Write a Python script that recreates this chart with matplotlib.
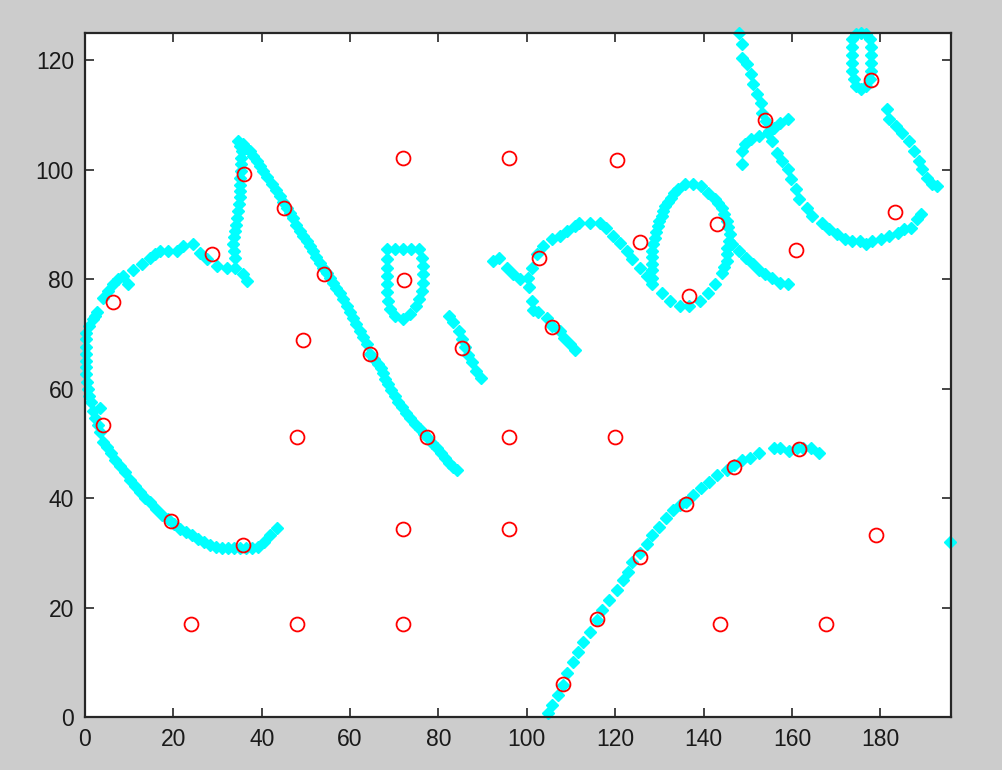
import matplotlib
matplotlib.use("Agg")
import matplotlib.pyplot as plt

# ---- red circles (grid nodes) ----
node_x = [6.3, 28.7, 36.0, 45.0, 54.0, 49.3, 64.4, 72.1, 71.9, 95.9, 120.3, 125.7,
          102.7, 105.8, 85.3, 77.3, 47.9, 4.1, 19.4, 35.7, 24.0, 47.9, 71.9, 71.9,
          95.9, 95.9, 119.9, 108.1, 115.8, 125.7, 136.1, 147.0, 161.5, 179.1, 167.8,
          143.8, 136.8, 143.1, 161.0, 153.8, 178.0, 183.4]
node_y = [75.9, 84.7, 99.3, 93.0, 80.9, 68.9, 66.4, 79.9, 102.2, 102.2, 101.8, 86.8,
          83.9, 71.2, 67.5, 51.1, 51.1, 53.3, 35.8, 31.4, 17.0, 17.0, 17.0, 34.3,
          34.3, 51.1, 51.1, 6.0, 17.9, 29.2, 39.0, 45.6, 48.9, 33.2, 17.0,
          17.0, 77.0, 90.1, 85.4, 109.1, 116.4, 92.3]

# ---- cyan handwriting strokes ----
# stroke 1: big left curve + vertical + long diagonal
s1_x = [43.4, 41.8, 40.5, 39.1, 37.8, 36.4, 35.1, 33.7, 32.3, 31.0, 29.6, 28.3, 26.9,
        25.6, 24.2, 22.8, 21.5, 20.1, 18.8, 17.4, 16.1, 14.7, 13.6, 12.4, 11.3, 10.2,
        9.0, 7.9, 6.8, 5.9, 5.0, 4.1, 3.4, 2.9, 2.3, 1.8, 3.4, 1.4, 0.9, 0.7, 0.5,
        0.2, 0.2, 0.2, 0.2, 0.2, 0.2, 0.2, 0.9, 1.8, 2.3, 2.7, 4.1, 5.2, 6.3, 7.5,
        8.6, 9.7, 10.9, 12.9, 14.7, 15.9, 17.0, 18.8, 20.8, 22.2, 24.4, 26.0, 27.6,
        29.9, 32.1, 33.9, 35.7, 36.6,
        33.9, 33.5, 33.9, 34.4, 34.8, 35.1, 35.1, 35.3, 35.5, 34.6,
        35.7, 37.3, 38.9, 40.3, 42.3, 44.1, 45.7, 47.0, 48.6, 50.2, 51.6, 53.1, 54.7,
        56.1, 57.7, 59.2, 60.6, 62.2, 63.8, 64.4, 66.3, 67.4, 68.5, 70.1, 71.7, 73.5,
        75.8, 77.6, 79.6, 81.4, 83.2, 84.1]
s1_y = [34.5, 33.2, 31.9, 31.0, 30.8, 30.8, 30.8, 30.8, 30.8, 30.8, 31.0, 31.4, 31.9,
        32.5, 33.2, 33.8, 34.3, 35.2, 36.1, 37.0, 38.1, 39.2, 40.1, 41.2, 42.3, 43.4,
        44.7, 45.8, 46.9, 48.2, 49.3, 50.2, 52.0, 53.3, 54.6, 56.0, 56.4, 57.5, 58.7,
        60.0, 61.3, 62.6, 63.9, 65.1, 66.4, 67.7, 69.0, 70.2, 71.5, 72.8, 73.3, 74.1,
        76.6, 77.9, 79.2, 80.0, 80.6, 79.2, 81.6, 82.8, 83.9, 84.6, 85.2, 85.2, 85.2,
        86.1, 86.5, 84.8, 83.7, 82.5, 82.1, 82.1, 81.0, 79.7,
        83.9, 86.5, 88.9, 91.2, 93.8, 96.2, 98.5, 101.1, 103.4, 105.3,
        104.7, 103.4, 101.6, 99.8, 97.4, 95.2, 93.0, 91.2, 88.9, 87.0, 85.2, 83.0, 81.2,
        79.4, 77.4, 75.2, 73.0, 70.6, 68.2, 66.4, 64.6, 62.8, 60.9, 58.7, 56.6, 54.6,
        52.7, 50.9, 49.1, 47.3, 45.6, 45.1]

# stroke 1b: further samples read along the vertical and long diagonal
s1b_x = [33.7, 33.7, 34.1, 34.6, 35.0, 35.1, 35.2, 35.4, 35.1,
         36.5, 38.1, 39.6, 41.3, 43.2, 44.9, 46.3, 47.8, 49.4, 50.9, 52.3, 53.9, 55.4,
         56.9, 58.4, 59.9, 61.4, 63.0, 65.4, 66.9, 68.0, 69.3, 70.9, 72.6, 74.6, 76.7,
         78.6, 80.5, 82.3]
s1b_y = [85.2, 87.7, 90.0, 92.5, 95.0, 97.3, 99.8, 102.2, 104.4,
         104.0, 102.5, 100.7, 98.6, 96.3, 94.1, 92.1, 90.0, 87.9, 86.1, 84.1, 82.1, 80.3,
         78.4, 76.3, 74.1, 71.8, 69.4, 65.5, 63.7, 61.8, 59.8, 57.6, 55.6, 53.6, 51.8,
         50.0, 48.2, 46.4]

# stroke 2: small closed loop
s2_x = [68.3, 70.1, 71.9, 73.7, 75.5, 76.2, 76.4, 76.4, 76.4, 76.2, 75.5, 74.9, 73.5,
        71.9, 70.1, 69.0, 68.5, 68.3, 68.3, 68.3, 68.3, 68.3]
s2_y = [85.6, 85.6, 85.6, 85.6, 85.6, 83.9, 82.5, 81.0, 79.4, 77.9, 76.4, 75.2, 73.7,
        72.8, 73.3, 74.6, 76.1, 77.7, 79.2, 80.6, 82.1, 83.7]

# stroke 3: short diagonal
s3_x = [82.3, 83.4, 84.6, 85.3, 85.9, 86.6, 87.5, 88.6, 89.6]
s3_y = [73.3, 72.1, 70.6, 69.1, 67.7, 66.2, 64.8, 63.3, 62.0]

# stroke 4: middle wave with loop
s4_x = [92.3, 93.8, 95.4, 96.8, 98.4, 100.2, 101.1, 102.2, 103.6, 105.6, 107.4, 109.2,
        110.8, 111.9, 114.2, 116.5, 118.0, 119.4, 121.0, 122.6, 123.9, 125.5, 127.1,
        128.4, 130.5, 132.3, 134.6, 136.8, 139.1, 140.9, 142.5, 144.1, 145.2, 145.4,
        145.9, 145.2, 144.1, 142.5, 140.9, 139.5, 137.5, 135.7, 134.1, 132.7, 131.2,
        130.5, 129.6, 128.9, 128.4, 128.4, 128.4,
        146.5, 148.1, 149.7, 151.1, 152.6, 153.8, 155.6, 157.2, 159.0,
        100.6, 101.1, 101.3, 102.5, 104.5, 105.8, 107.4, 108.5, 109.7, 110.8,
        144.7, 145.3, 145.7, 145.6, 144.7, 143.3,
        128.4, 128.4, 128.6, 129.2, 130.0, 130.8, 132.0, 133.4]
s4_y = [83.4, 83.9, 82.1, 81.0, 80.1, 80.3, 82.1, 84.7, 86.1, 87.4, 87.9, 88.9,
        89.8, 90.3, 90.3, 90.3, 89.4, 87.9, 86.7, 85.2, 83.7, 82.1, 80.6,
        79.2, 77.4, 76.1, 75.2, 75.2, 76.1, 77.4, 79.2, 81.2, 83.4, 85.8,
        88.3, 90.7, 93.0, 94.7, 95.8, 97.1, 97.4, 97.4, 96.5, 94.9, 93.4,
        91.6, 89.8, 87.6, 85.2, 82.8, 80.3,
        86.5, 85.2, 83.9, 82.8, 81.6, 81.0, 80.3, 79.4, 79.2,
        78.5, 76.1, 74.3, 74.0, 73.0, 71.5, 70.6, 69.3, 68.2, 67.0,
        82.3, 84.6, 87.0, 89.5, 91.9, 93.9,
        81.6, 84.0, 86.4, 88.7, 90.7, 92.5, 94.2, 95.8]

# stroke 5: upper right hook, cross bar, right arc and top loop
s5_x = [148.1, 148.6, 148.6, 149.9, 150.8, 151.1, 152.2, 153.1, 153.3, 154.2, 154.9,
        155.6, 156.7, 157.8, 159.0, 159.9, 161.0, 161.7, 163.3, 164.6, 166.7, 168.5,
        170.1, 171.9, 173.7, 175.3, 176.8, 178.2, 180.2, 182.0, 183.9, 185.4, 187.0,
        188.4, 189.3,
        148.6, 148.6, 149.3, 150.8, 152.6, 154.5, 156.0, 157.2, 159.2,
        181.6, 182.0, 183.6, 185.0, 186.6, 187.7, 188.8, 189.5, 190.6, 191.8, 192.9,
        173.7, 173.7, 173.7, 173.7, 173.7, 174.0, 174.6, 175.7, 176.8, 177.7, 178.0,
        178.0, 178.0, 178.0, 177.7, 174.6, 175.7, 176.8]
s5_y = [125.0, 123.0, 120.4, 119.3, 117.5, 115.7, 113.8, 112.2, 110.4, 108.9, 107.1,
        105.3, 103.1, 101.6, 100.2, 98.3, 96.5, 94.7, 93.0, 91.6, 90.3, 89.2,
        88.3, 87.4, 87.0, 87.0, 86.5, 87.0, 87.4, 87.9, 88.5, 89.2, 89.4,
        91.0, 92.0,
        101.1, 103.4, 104.7, 105.6, 106.2, 106.7, 107.6, 108.6, 109.3,
        111.1, 109.3, 108.0, 106.7, 105.3, 103.4, 101.6, 100.2, 98.5, 97.4, 97.1,
        123.9, 122.4, 121.0, 119.5, 118.0, 116.6, 115.3, 114.8, 115.3, 116.6, 118.0,
        119.5, 121.0, 122.4, 123.9, 124.8, 125.0, 124.8]

# stroke 6: lower rising arc + lone point at right edge
s6_x = [104.7, 105.8, 107.0, 108.1, 109.2, 110.4, 111.5, 112.6, 114.2, 115.8, 117.1,
        118.7, 120.3, 121.7, 122.8, 123.9, 125.5, 127.1, 128.4, 130.0, 131.6, 133.0,
        134.6, 136.1, 137.5, 139.5, 141.3, 143.1, 145.2, 147.0, 148.8, 150.4, 152.6,
        156.0, 157.2, 159.4, 161.2, 162.4, 164.4, 166.2, 195.8]
s6_y = [0.7, 2.2, 4.0, 5.8, 8.0, 10.0, 11.9, 13.7, 15.5, 17.7, 19.5,
        21.3, 23.2, 25.0, 26.5, 28.3, 29.9, 31.7, 33.2, 34.7, 36.3, 37.8,
        38.7, 39.2, 40.5, 41.8, 42.9, 44.2, 45.1, 46.0, 46.9, 47.3, 48.2,
        49.1, 49.1, 48.7, 49.1, 49.1, 49.1, 48.2, 31.9]

x_ticks = [0, 20, 40, 60, 80, 100, 120, 140, 160, 180]
y_ticks = [0, 20, 40, 60, 80, 100, 120]

plt.rcParams['font.family'] = ['Liberation Sans', 'DejaVu Sans']

fig = plt.figure(figsize=(10.03, 7.70), dpi=100, facecolor='#cccccc')
ax = fig.add_axes([85/1003, 53/770, 866/1003, 684/770])
ax.set_facecolor('white')

for sx, sy in [(s1_x, s1_y), (s1b_x, s1b_y), (s2_x, s2_y), (s3_x, s3_y),
               (s4_x, s4_y), (s5_x, s5_y), (s6_x, s6_y)]:
    ax.plot(sx, sy, linestyle='none', marker='D', markersize=6.2,
            markerfacecolor='#00ffff', markeredgecolor='#00ffff',
            markeredgewidth=1.0, clip_on=False, zorder=2)

ax.plot(node_x, node_y, linestyle='none', marker='o', markersize=10,
        markerfacecolor='none', markeredgecolor='#ff0000',
        markeredgewidth=1.3, zorder=3)

ax.set_xlim(0, 196)
ax.set_ylim(0, 125)
ax.set_xticks(x_ticks)
ax.set_yticks(y_ticks)
ax.tick_params(direction='in', top=True, right=True, length=6.5, width=1.2,
               color='#262626', labelsize=16.5, labelcolor='#1a1a1a', pad=8)
for sp in ax.spines.values():
    sp.set_linewidth(1.6)
    sp.set_color('#262626')

fig.savefig('out.png', dpi=100, facecolor=fig.get_facecolor())
